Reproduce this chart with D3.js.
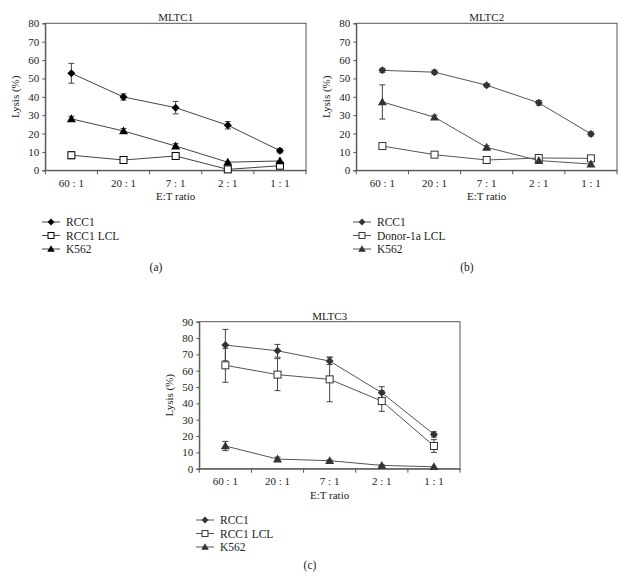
<!DOCTYPE html>
<html><head><meta charset="utf-8">
<script src="https://cdn.jsdelivr.net/npm/d3@7"></script>
<style>
body{margin:0;background:#fff;}
text{font-family:"Liberation Serif","DejaVu Serif",serif;fill:#222;}
</style></head>
<body><svg id="c" width="626" height="578"></svg>
<script>
const categories = ["60 : 1","20 : 1","7 : 1","2 : 1","1 : 1"];
// Panel (a) MLTC1
const a_rcc1 = [52.8, 39.9, 34.1, 24.5, 10.7];
const a_rcc1_err = [5.4, 1.7, 3.4, 2.0, 1.2];
const a_lcl = [8.2, 5.6, 7.8, 0.5, 2.5];
const a_lcl_err = [1.9, 0, 1.3, 0, 0];
const a_k562 = [28.0, 21.4, 13.2, 4.4, 5.1];
const a_k562_err = [1.4, 1.3, 1.3, 0, 0];
// Panel (b) MLTC2
const b_rcc1 = [54.4, 53.4, 46.3, 36.7, 19.8];
const b_rcc1_err = [1.1, 1.1, 0.9, 1.3, 1.1];
const b_lcl = [13.2, 8.5, 5.6, 6.7, 6.5];
const b_lcl_err = [0, 0, 0, 0, 0];
const b_k562 = [37.2, 28.9, 12.5, 5.3, 3.4];
const b_k562_err = [9.3, 1.1, 0.9, 0.9, 0];
// Panel (c) MLTC3
const c_rcc1 = [75.7, 72.2, 65.9, 46.5, 21.0];
const c_rcc1_err = [9.6, 3.9, 2.1, 3.7, 1.6];
const c_lcl = [63.3, 57.6, 54.7, 41.4, 13.9];
const c_lcl_err = [10.4, 9.8, 13.7, 6.3, 3.9];
const c_k562 = [13.9, 5.9, 4.9, 2.0, 1.2];
const c_k562_err = [2.8, 1.2, 0.5, 0.3, 0];

const svg = d3.select("#c");

function drawPanel(o){
  const g = svg.append("g");
  const x = d3.scaleBand().domain(categories).range([o.left, o.right]);
  const y = d3.scaleLinear().domain([0, o.ymax]).range([o.bottom, o.top]);
  const axisCol = "#555";
  // frame
  g.append("rect").attr("x", o.left).attr("y", o.top)
    .attr("width", o.right - o.left).attr("height", o.bottom - o.top)
    .attr("fill","none").attr("stroke", axisCol).attr("stroke-width",1);
  // y axis
  const ya = g.append("g").attr("transform",`translate(${o.left},0)`)
    .call(d3.axisLeft(y).tickValues(d3.range(0, o.ymax + 1, 10)).tickSize(3).tickPadding(3));
  ya.select(".domain").attr("stroke", axisCol);
  ya.selectAll(".tick line").attr("stroke", axisCol);
  ya.selectAll("text").style("font-size","11px").style("font-family","Liberation Serif").attr("fill","#222");
  // x axis
  const xa = g.append("g").attr("transform",`translate(0,${o.bottom})`)
    .call(d3.axisBottom(x).tickSize(0).tickPadding(9));
  xa.select(".domain").attr("stroke", axisCol);
  xa.selectAll("text").style("font-size","11px").style("font-family","Liberation Serif").attr("fill","#222");
  g.selectAll(".bt").data(d3.range(categories.length + 1)).enter().append("line")
    .attr("x1", i => o.left + i * x.step()).attr("x2", i => o.left + i * x.step())
    .attr("y1", o.bottom).attr("y2", o.bottom + 4).attr("stroke", axisCol);
  // title and labels
  g.append("text").attr("x", (o.left + o.right)/2).attr("y", o.top - 2)
    .attr("text-anchor","middle").style("font-size","11px").text(o.title);
  g.append("text").attr("x", (o.left + o.right)/2).attr("y", o.bottom + 30)
    .attr("text-anchor","middle").style("font-size","11px").text("E:T ratio");
  g.append("text").attr("transform",`translate(${o.left - 26},${(o.top + o.bottom)/2}) rotate(-90)`)
    .attr("text-anchor","middle").style("font-size","11px").text("Lysis (%)");

  const cx = d => x(d) + x.bandwidth()/2;
  const line = d3.line().x((v,i) => cx(categories[i])).y(v => y(v));
  o.series.forEach(s => {
    g.append("path").attr("d", line(s.values)).attr("fill","none")
      .attr("stroke", o.lineCol).attr("stroke-width", 1);
  });
  o.series.forEach(s => {
    s.values.forEach((v,i) => {
      const e = s.err[i];
      if (e > 0) {
        const X = cx(categories[i]);
        g.append("line").attr("x1",X).attr("x2",X).attr("y1",y(v+e)).attr("y2",y(v-e)).attr("stroke","#444");
        [v+e, v-e].forEach(w => g.append("line").attr("x1",X-3).attr("x2",X+3)
          .attr("y1",y(w)).attr("y2",y(w)).attr("stroke","#444"));
      }
    });
  });
  o.series.forEach(s => {
    s.values.forEach((v,i) => drawMarker(g, s.shape, cx(categories[i]), y(v), o.markCol));
  });
  // legend
  o.series.forEach((s,i) => {
    const ly = o.legY + i * 13.5;
    g.append("line").attr("x1", o.legX).attr("x2", o.legX + 18).attr("y1", ly).attr("y2", ly)
      .attr("stroke", o.lineCol);
    drawMarker(g, s.shape, o.legX + 9, ly, o.markCol, 0.85);
    g.append("text").attr("x", o.legX + 24).attr("y", ly + 4).style("font-size","11.5px").text(s.name);
  });
  g.append("text").attr("x", o.capX).attr("y", o.capY).attr("text-anchor","middle")
    .style("font-size","11.5px").text(o.caption);
}

function drawMarker(g, shape, X, Y, col, k){
  k = k || 1;
  if (shape === "diamond") {
    const r = 4 * k;
    g.append("path").attr("d", `M${X},${Y-r}L${X+r},${Y}L${X},${Y+r}L${X-r},${Y}Z`).attr("fill", col);
  } else if (shape === "square") {
    const r = 3.5 * k;
    g.append("rect").attr("x", X-r).attr("y", Y-r).attr("width", 2*r).attr("height", 2*r)
      .attr("fill","#fff").attr("stroke", col).attr("stroke-width",1);
  } else {
    const r = 4.5 * k;
    g.append("path").attr("d", `M${X},${Y-r}L${X+r},${Y+r*0.75}L${X-r},${Y+r*0.75}Z`).attr("fill", col);
  }
}

drawPanel({title:"MLTC1", left:45.3, right:306, top:23.3, bottom:170.3, ymax:80,
  lineCol:"#444", markCol:"#000", legX:42, legY:222, capX:156, capY:271, caption:"(a)",
  series:[{name:"RCC1", shape:"diamond", values:a_rcc1, err:a_rcc1_err},
          {name:"RCC1 LCL", shape:"square", values:a_lcl, err:a_lcl_err},
          {name:"K562", shape:"triangle", values:a_k562, err:a_k562_err}]});
drawPanel({title:"MLTC2", left:356.3, right:617, top:23.3, bottom:170.3, ymax:80,
  lineCol:"#555", markCol:"#333", legX:353, legY:222, capX:467, capY:271, caption:"(b)",
  series:[{name:"RCC1", shape:"diamond", values:b_rcc1, err:b_rcc1_err},
          {name:"Donor-1a LCL", shape:"square", values:b_lcl, err:b_lcl_err},
          {name:"K562", shape:"triangle", values:b_k562, err:b_k562_err}]});
drawPanel({title:"MLTC3", left:199.3, right:460, top:321.7, bottom:468.7, ymax:90,
  lineCol:"#555", markCol:"#333", legX:196, legY:520, capX:310, capY:569, caption:"(c)",
  series:[{name:"RCC1", shape:"diamond", values:c_rcc1, err:c_rcc1_err},
          {name:"RCC1 LCL", shape:"square", values:c_lcl, err:c_lcl_err},
          {name:"K562", shape:"triangle", values:c_k562, err:c_k562_err}]});
</script></body></html>
